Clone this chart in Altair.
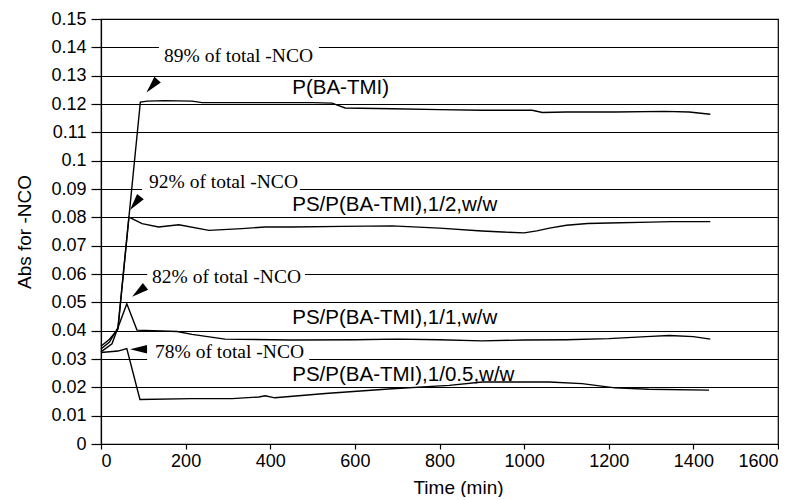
import altair as alt
import pandas as pd

# ---- series data (time in min, absorbance) ----
t_p = [0, 20, 40, 93, 109, 150, 215, 239, 300, 400, 500, 546, 577, 688, 800, 901, 1019, 1043, 1100, 1215, 1333, 1390, 1440]
v_p = [0.0335, 0.036, 0.041, 0.1207, 0.121, 0.1212, 0.121, 0.1205, 0.1205, 0.1205, 0.1205, 0.1203, 0.1186, 0.1183,
       0.118, 0.1178, 0.1178, 0.117, 0.1172, 0.1172, 0.1174, 0.1172, 0.1164]

t_12 = [0, 20, 40, 66, 97, 136, 184, 255, 333, 388, 451, 570, 688, 800, 900, 950, 1000, 1030, 1060, 1100, 1150,
        1200, 1300, 1350, 1440]
v_12 = [0.0345, 0.037, 0.0405, 0.0801, 0.0778, 0.0766, 0.0774, 0.0754, 0.076, 0.0766, 0.0766, 0.0768, 0.077, 0.0762,
        0.0752, 0.0748, 0.0745, 0.0752, 0.0762, 0.0772, 0.0778, 0.078, 0.0783, 0.0785, 0.0785]

t_11 = [0, 26, 61, 85, 180, 215, 293, 450, 600, 700, 800, 900, 1000, 1100, 1200, 1300, 1343, 1400, 1440]
v_11 = [0.0325, 0.0354, 0.0495, 0.0402, 0.0397, 0.0387, 0.037, 0.0367, 0.0368, 0.037, 0.0368, 0.0364, 0.0367,
        0.0368, 0.0372, 0.038, 0.0383, 0.0379, 0.037]

t_105 = [0, 40, 61, 92, 215, 310, 373, 388, 411, 530, 688, 823, 901, 1059, 1137, 1215, 1295, 1437]
v_105 = [0.0323, 0.0328, 0.0337, 0.0157, 0.016, 0.016, 0.0166, 0.017, 0.0163, 0.0178, 0.0195, 0.0207, 0.0219,
         0.0219, 0.0213, 0.0198, 0.0193, 0.019]

series_names = ["P(BA-TMI)", "PS/P(BA-TMI),1/2,w/w", "PS/P(BA-TMI),1/1,w/w", "PS/P(BA-TMI),1/0.5,w/w"]

# series labels
label_t = [452, 452, 452, 452]
label_v = [0.1255, 0.0845, 0.0445, 0.0244]

# annotations
ann_text = ["89% of total -NCO", "92% of total -NCO", "82% of total -NCO", "78% of total -NCO"]
ann_t = [149, 113.5, 120.6, 127.7]
ann_v = [0.1368, 0.0923, 0.0591, 0.0325]
box_t = [137, 97, 109, 109]
box_t2 = [515, 470, 482, 492]
box_v = [0.1335, 0.0885, 0.0565, 0.0285]
box_v2 = [0.1415, 0.0955, 0.0625, 0.0355]

# arrow heads
arr_t = [125, 85, 94.6, 95.5]
arr_v = [0.1271, 0.0857, 0.0544, 0.0334]
arr_angle = [221, 218, 232, 270]

x_ticks = [0, 200, 400, 600, 800, 1000, 1200, 1400, 1600]
y_ticks = [0, 0.01, 0.02, 0.03, 0.04, 0.05, 0.06, 0.07, 0.08, 0.09, 0.1, 0.11, 0.12, 0.13, 0.14, 0.15]

# ---- tables ----
rows = []
for name, ts, vs in zip(series_names, [t_p, t_12, t_11, t_105], [v_p, v_12, v_11, v_105]):
    for t, v in zip(ts, vs):
        rows.append({"series": name, "t": t, "v": v})
lines_df = pd.DataFrame(rows)
labels_df = pd.DataFrame({"label": series_names, "t": label_t, "v": label_v})
ann_df = pd.DataFrame({"label": ann_text, "t": ann_t, "v": ann_v})
box_df = pd.DataFrame({"t": box_t, "t2": box_t2, "v": box_v, "v2": box_v2})
arr_df = pd.DataFrame({"t": arr_t, "v": arr_v, "angle": arr_angle})

SANS = "Liberation Sans"
SERIF = "Liberation Serif"

x_enc = alt.X("t:Q", scale=alt.Scale(domain=[0, 1600], nice=False, zero=False),
              axis=alt.Axis(values=x_ticks, format="d", grid=False, tickSize=5, labelPadding=3, titlePadding=8,
                            labelFontSize=18, titleFontSize=19, titleX=357),
              title="Time (min)")
y_enc = alt.Y("v:Q", scale=alt.Scale(domain=[0, 0.15], nice=False),
              axis=alt.Axis(values=y_ticks, format=".2~f", grid=True, gridColor="black", gridWidth=1.2,
                            tickSize=10, labelPadding=5, titlePadding=16,
                            labelFontSize=18, titleFontSize=19),
              title="Abs for -NCO")

boxes = alt.Chart(box_df).mark_rect(color="white").encode(
    x=x_enc, x2="t2:Q", y=y_enc, y2="v2:Q"
)

lines = alt.Chart(lines_df).mark_line(color="black", strokeWidth=1.4).encode(
    x=x_enc, y=y_enc, detail="series:N"
)

labels = alt.Chart(labels_df).mark_text(align="left", baseline="middle", font=SANS, fontSize=20.5,
                                        color="black").encode(
    x=x_enc, y=y_enc, text="label:N"
)

anns = alt.Chart(ann_df).mark_text(align="left", baseline="middle", font=SERIF, fontSize=19.5,
                                   color="black").encode(
    x=x_enc, y=y_enc, text="label:N"
)

arrows = alt.Chart(arr_df).mark_point(filled=True, color="black", opacity=1, size=289,
                                      shape="M0,-1.333L0.5,0.667L-0.5,0.667Z").encode(
    x=x_enc, y=y_enc, angle=alt.Angle("angle:Q", scale=None)
)

chart = alt.layer(boxes, lines, labels, anns, arrows).properties(
    width=677, height=425,
    padding={"left": 7, "top": 2, "right": 0, "bottom": 0},
    background="white",
).configure_view(
    stroke="black", strokeWidth=1.2
).configure_axis(
    domainColor="black", tickColor="black", labelColor="black", titleColor="black",
    labelFont=SANS, titleFont=SANS, titleFontWeight="normal", domainWidth=1.2, tickWidth=1.2
)

chart.save("out.html", embed_options={"renderer": "svg", "actions": False})
